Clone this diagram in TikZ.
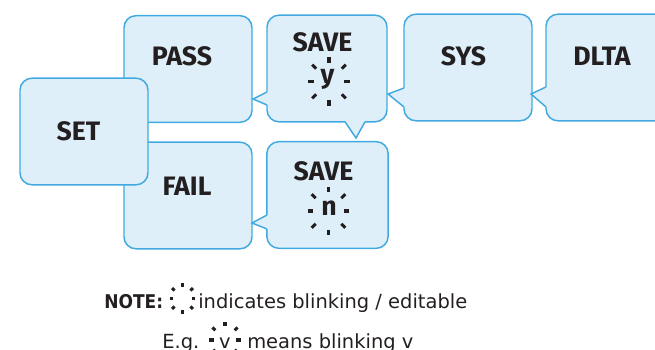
\documentclass[tikz,border=0pt]{standalone}
\usepackage{fontspec}
\setmainfont{Fira Sans}
\newfontfamily\notefont{DejaVu Sans}
\newfontfamily\noteheadfont[FakeStretch=0.9]{DejaVu Sans}
\usetikzlibrary{calc}
\definecolor{boxfill}{RGB}{223,239,249}
\definecolor{boxedge}{RGB}{64,170,224}
\definecolor{ink}{RGB}{35,31,32}
% callout tail: first base point, tip, second base point, shift into the box
\newcommand\boxtail[4]{%
  \fill[boxfill] #1 -- #2 -- #3 -- ($#3+#4$) -- ($#1+#4$) -- cycle;
  \draw[boxedge, line width=1.1pt, line join=miter] #1 -- #2 -- #3;}
\tikzset{
  box/.style={draw=boxedge, fill=boxfill, line width=1.1pt, rounded corners=9pt,
    minimum width=96pt, minimum height=80pt, inner sep=0pt},
  lbl/.style={text=ink, font=\fontsize{20}{24}\selectfont\bfseries, inner sep=0pt},
  note/.style={text=ink, font=\notefont\fontsize{14.6}{17}\selectfont, inner sep=0pt, anchor=base west},
  notebold/.style={note, font=\noteheadfont\fontsize{14.2}{17}\selectfont\bfseries},
  pics/blink/.style={code={
    \foreach \a/\r in {0/18,45/21,90/21.5,135/21,180/18,225/21,270/21.5,315/21}
      \draw[ink, line width=2.3pt] (\a:{\r-2.8}) -- (\a:{\r+2.8});
  }}
}
\begin{document}
\begin{tikzpicture}[x=0.75pt,y=-0.75pt]
  \useasboundingbox (0,0) rectangle (655,349);
  \clip (0,0) rectangle (655,349);

  %%%%% boxes %%%%%
  \node[box] (pass) at (188,69) {};
  \node[box] (fail) at (188,195.5) {};
  \node[box] (set) at (84,131.5) {};

  \node[box, minimum width=90pt] (savey) at (327,68.5) {};
  \boxtail{(267,92)}{(253,99)}{(267,105)}{(3,0)}
  \boxtail{(345,121.8)}{(356,138)}{(365,121.8)}{(0,-3)}

  \node[box, minimum width=91pt] (saven) at (327.5,195) {};
  \boxtail{(267,215)}{(252,223)}{(267,229)}{(3,0)}

  \node[box] (sys) at (468,67.5) {};
  \boxtail{(404,88)}{(388,94)}{(404,107)}{(3,0)}

  \node[box] (dlta) at (610,67.5) {};
  \boxtail{(546,87)}{(531,94)}{(546,107)}{(3,0)}

  %%%%% labels %%%%%
  \node[lbl] (passlbl) at (182,56.5) {PASS};
  \node[lbl] (setlbl) at (78.5,131) {SET};
  \node[lbl] (faillbl) at (187,186.5) {FAIL};
  \node[lbl] (saveylbl) at (322.5,42.5) {SAVE};
  \node[lbl, anchor=base] (ylbl) at (327.5,84) {y};
  \pic at (329,81.5) {blink};
  \node[lbl] (savenlbl) at (323.5,171) {SAVE};
  \node[lbl, anchor=base] (nlbl) at (329,215) {n};
  \pic at (328.5,211) {blink};
  \node[lbl] (syslbl) at (463.5,56) {SYS};
  \node[lbl] (dltalbl) at (602,56) {DLTA};

  %%%%% note %%%%%
  \node[notebold] (notehead) at (104,308) {NOTE:};
  \pic[scale=0.62] at (182.5,298.5) {blink};
  \node[note] (notetext) at (198,308) {indicates blinking / editable};
  \node[note] (eg) at (162,348) {E.g.};
  \pic[scale=0.75] at (225,340) {blink};
  \node[note, anchor=base] (egv) at (225,348) {v};
  \node[note] (egtext) at (247,348) {means blinking v};
\end{tikzpicture}
\end{document}
